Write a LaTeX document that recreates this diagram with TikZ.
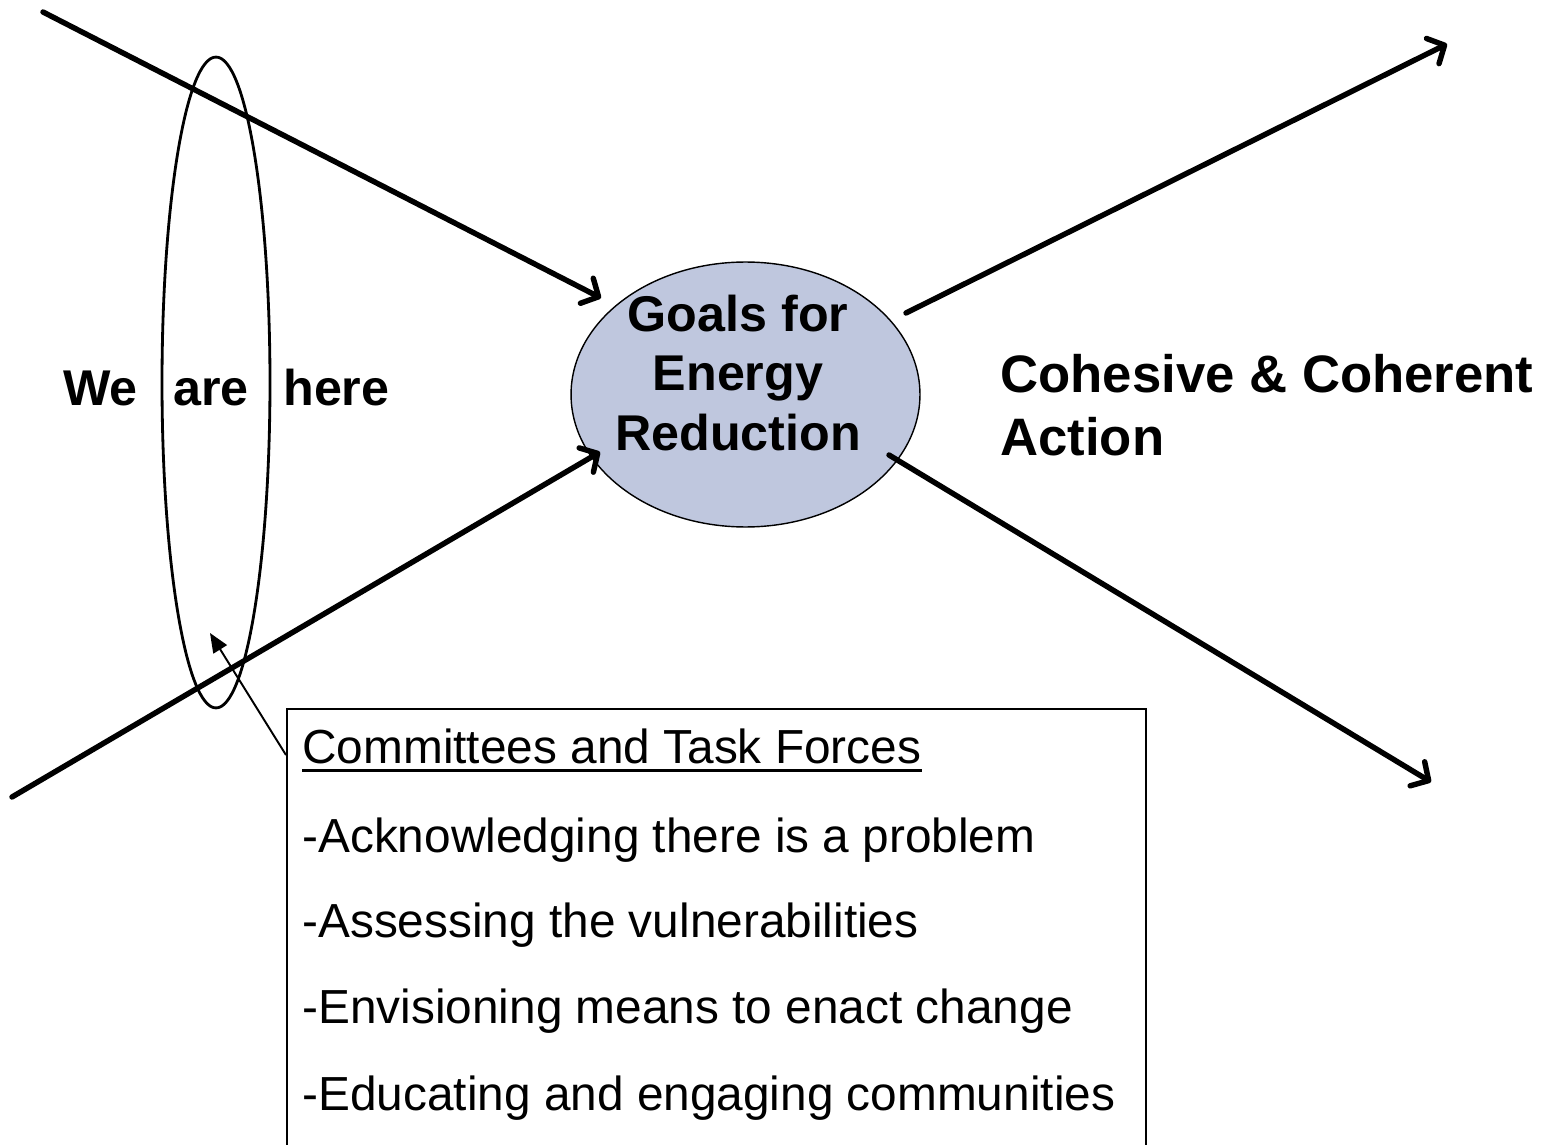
\documentclass[tikz,border=0pt]{standalone}
\usepackage{fontspec}
\setmainfont{Liberation Sans}
\usetikzlibrary{arrows.meta,shapes.geometric}
\definecolor{goalfill}{RGB}{191,199,222}
\tikzset{
  thick arrow/.style={line width=3.1pt, line cap=round, -{Straight Barb[length=7.5pt,width=16pt,round]}},
  thin arrow/.style={line width=1.1pt, -{Triangle[length=11pt,width=9pt]}},
  boldtxt/.style={inner sep=0pt, font=\fontsize{28.6}{34}\selectfont\bfseries},
  boxtxt/.style={inner sep=0pt, anchor=base west, font=\fontsize{27.2}{32}\selectfont},
}
\begin{document}
\begin{tikzpicture}[x=0.02cm,y=-0.02cm]
\useasboundingbox (0,0) rectangle (1551,1145);
\clip (0,0) rectangle (1551,1145);
% left ellipse
\node[ellipse, draw, line width=1.6pt, minimum width=2.16cm, minimum height=13.02cm, inner sep=0pt] (here) at (216,382.5) {};
% central ellipse
\node[ellipse, draw, line width=0.8pt, fill=goalfill, minimum width=6.98cm, minimum height=5.3cm, inner sep=0pt] (goal) at (745.5,394.5) {};
\node[boldtxt, align=center] (goaltxt) at (738,373) {Goals for\\Energy\\Reduction};
% we are here
\node[boldtxt, anchor=base west] (we) at (63,405) {We};
\node[boldtxt, anchor=base west] (are) at (173,405) {are};
\node[boldtxt, anchor=base west] (herew) at (283,405) {here};
% cohesive
\node[inner sep=0pt, anchor=base west, font=\fontsize{30}{35}\selectfont\bfseries] (coh) at (1000,392) {Cohesive \& Coherent};
\node[inner sep=0pt, anchor=base west, font=\fontsize{30}{35}\selectfont\bfseries] (act) at (1000,455) {Action};
% arrows
\coordinate (a1s) at (43,12);   \coordinate (a1e) at (601,298);
\coordinate (a2s) at (12,797);  \coordinate (a2e) at (600,452);
\coordinate (a3s) at (906,313); \coordinate (a3e) at (1447,44);
\coordinate (a4s) at (889,455); \coordinate (a4e) at (1431,782);
\draw[thick arrow] (a1s) -- (a1e);
\draw[thick arrow] (a2s) -- (a2e);
\draw[thick arrow] (a3s) -- (a3e);
\draw[thick arrow] (a4s) -- (a4e);
% box
\node[draw, line width=1.1pt, fill=white, anchor=north west, minimum width=17.18cm, minimum height=10cm, inner sep=0pt] (box) at (286,708) {};
\node[boxtxt] (ctf) at (302,763) {Committees and Task Forces};
\draw[line width=2pt] ([yshift=-0.15cm]ctf.base west) -- ([yshift=-0.15cm]ctf.base east);
\node[boxtxt] (l1) at (302,852) {-Acknowledging there is a problem};
\node[boxtxt] (l2) at (302,937) {-Assessing the vulnerabilities};
\node[boxtxt] (l3) at (302,1023) {-Envisioning means to enact change};
\node[boxtxt] (l4) at (302,1110) {-Educating and engaging communities};
% thin arrow
\coordinate (ts) at (286,755);
\coordinate (te) at (210,633);
\draw[thin arrow] (ts) -- (te);
\end{tikzpicture}
\end{document}
